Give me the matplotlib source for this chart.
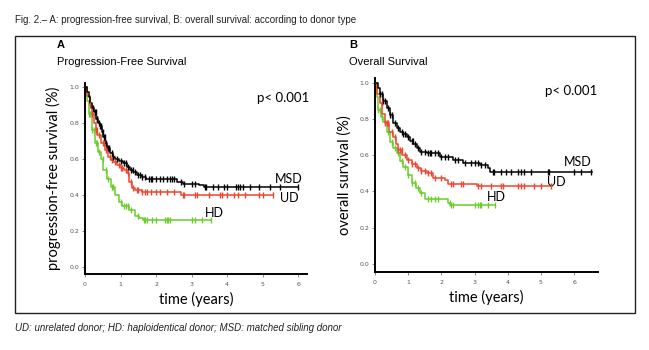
import matplotlib
matplotlib.use("Agg")
import matplotlib.pyplot as plt
from matplotlib import font_manager
from matplotlib.patches import Rectangle
import numpy as np

avail = {f.name for f in font_manager.fontManager.ttflist}
NARROW = "Liberation Sans Narrow" if "Liberation Sans Narrow" in avail else "Liberation Sans"
CAL = "Lato" if "Lato" in avail else "DejaVu Sans"

W, H = 649, 350

# ---------------- data ----------------
# Panel A: progression-free survival (step functions: time in years, survival)
pfs_msd_t = [0, 0.05, 0.1, 0.15, 0.2, 0.25, 0.32, 0.38, 0.42, 0.47, 0.52, 0.57, 0.62, 0.70, 0.78, 0.85, 0.95, 1.08, 1.18,
             1.27, 1.36, 1.45, 1.6, 1.73, 2.1, 2.6, 2.75, 3.2, 3.35]
pfs_msd_s = [1.0, 0.97, 0.94, 0.91, 0.88, 0.86, 0.82, 0.80, 0.78, 0.75, 0.72, 0.69, 0.66, 0.63, 0.61, 0.60, 0.59, 0.575,
             0.555, 0.54, 0.525, 0.51, 0.50, 0.49, 0.485, 0.47, 0.46, 0.455, 0.443]
pfs_msd_end = 6.0
pfs_msd_c = [0.22, 0.27, 0.3, 0.33, 0.35, 0.4, 0.43, 0.45, 0.5, 0.53, 0.55, 0.6, 0.65, 0.68, 0.75, 0.8, 0.9, 1.0, 1.1,
             1.15, 1.2, 1.3, 1.35, 1.4, 1.5, 1.55, 1.6, 1.7, 1.8, 1.85, 1.9,
             2.0, 2.1, 2.2, 2.3, 2.4, 2.45, 2.5, 2.7, 2.8, 3.0, 3.1, 3.38, 3.42, 3.6, 3.75, 3.9, 4.0, 4.25, 4.3, 4.35,
             4.45, 4.65, 4.9, 5.2, 5.5, 6.0]

pfs_ud_t = [0, 0.06, 0.14, 0.2, 0.25, 0.3, 0.35, 0.45, 0.55, 0.65, 0.72, 0.8, 0.9, 1.0, 1.1, 1.17, 1.25, 1.33, 1.42,
            1.6, 2.7]
pfs_ud_s = [1.0, 0.95, 0.90, 0.85, 0.80, 0.76, 0.73, 0.69, 0.65, 0.61, 0.595, 0.58, 0.565, 0.55, 0.535, 0.52, 0.47,
            0.44, 0.425, 0.413, 0.40]
pfs_ud_end = 5.3
pfs_ud_c = [0.15, 0.2, 0.3, 0.33, 0.4, 0.5, 0.53, 0.6, 0.7, 0.75, 0.85, 0.95, 1.0, 1.05, 1.15, 1.2, 1.3, 1.35,
            1.45, 1.5, 1.6, 1.7, 1.75, 1.85, 2.0, 2.1,
            2.3, 2.5, 2.75, 2.8, 3.1, 3.15, 3.5, 3.8, 3.85, 4.0, 4.2, 4.3, 4.5, 4.9, 5.0, 5.3]

pfs_hd_t = [0, 0.05, 0.1, 0.19, 0.28, 0.38, 0.45, 0.52, 0.62, 0.72, 0.85, 0.95, 1.05, 1.25, 1.4, 1.52, 1.64]
pfs_hd_s = [1.0, 0.92, 0.85, 0.76, 0.69, 0.64, 0.60, 0.54, 0.49, 0.445, 0.40, 0.36, 0.34, 0.315, 0.285, 0.27, 0.258]
pfs_hd_end = 3.56
pfs_hd_c = [0.1, 0.15, 0.2, 0.25, 0.3, 0.35, 0.4, 0.5, 0.6, 0.65, 0.75, 0.8, 1.0, 1.1, 1.15, 1.2, 1.3, 1.5, 1.65,
            1.7, 1.75, 1.9, 2.0, 2.25, 2.3, 2.35, 2.4, 3.0, 3.1, 3.3, 3.56]

# Panel B: overall survival
os_msd_t = [0, 0.08, 0.15, 0.25, 0.35, 0.45, 0.55, 0.65, 0.75, 0.85, 0.95, 1.05, 1.16, 1.26, 1.36, 1.56, 1.96, 2.36,
            2.66, 3.17, 3.42, 3.47]
os_msd_s = [1.0, 0.97, 0.94, 0.90, 0.86, 0.82, 0.78, 0.75, 0.73, 0.715, 0.70, 0.68, 0.66, 0.64, 0.62, 0.61, 0.59,
            0.574, 0.556, 0.547, 0.53, 0.505]
os_msd_end = 6.55
os_msd_c = [0.15, 0.2, 0.25, 0.3, 0.4, 0.45, 0.5, 0.6, 0.7, 0.8, 0.85, 0.9, 1.0, 1.1, 1.15, 1.2, 1.3, 1.4, 1.5,
            1.6, 1.65, 1.7, 1.8, 1.9, 2.0, 2.1, 2.2,
            2.4, 2.5, 2.7, 2.9, 3.0, 3.1, 3.2, 3.3, 3.55, 3.6, 3.8, 3.95, 4.1, 4.3, 4.4, 4.5, 4.7, 5.2, 5.25, 6.0,
            6.2, 6.5]

os_ud_t = [0, 0.07, 0.15, 0.22, 0.3, 0.42, 0.55, 0.62, 0.7, 0.82, 0.95, 1.1, 1.26, 1.4, 1.56, 1.76, 2.11, 2.2, 3.06]
os_ud_s = [1.0, 0.94, 0.886, 0.83, 0.776, 0.73, 0.70, 0.66, 0.63, 0.60, 0.574, 0.55, 0.528, 0.515, 0.50, 0.473,
           0.464, 0.44, 0.428]
os_ud_end = 5.33
os_ud_c = [0.2, 0.3, 0.35, 0.4, 0.5, 0.6, 0.7, 0.75, 0.8, 0.9, 1.0, 1.1, 1.2, 1.3, 1.4, 1.5, 1.6, 1.7, 1.8, 2.0,
           2.3, 2.35, 2.6, 2.65, 3.1, 3.2, 3.5, 3.8, 3.85, 4.3, 4.4, 4.5, 4.8, 5.0, 5.3]

os_hd_t = [0, 0.05, 0.1, 0.18, 0.25, 0.35, 0.45, 0.55, 0.65, 0.75, 0.85, 0.98, 1.1, 1.23, 1.36, 1.5, 2.2, 2.26]
os_hd_s = [1.0, 0.92, 0.85, 0.81, 0.785, 0.73, 0.675, 0.64, 0.61, 0.57, 0.537, 0.49, 0.446, 0.42, 0.39, 0.358,
           0.336, 0.326]
os_hd_end = 3.62
os_hd_c = [0.1, 0.15, 0.2, 0.3, 0.4, 0.5, 0.6, 0.7, 0.8, 0.9, 1.0, 1.1, 1.2, 1.3, 1.4, 1.6, 1.7, 1.8, 1.9, 2.25,
           2.3, 2.35, 3.0, 3.1, 3.15, 3.2, 3.4, 3.62]

x_ticks = [0, 1, 2, 3, 4, 5, 6]
y_ticks = [0.0, 0.2, 0.4, 0.6, 0.8, 1.0]
y_ticklabels = ["0.0", "0.2", "0.4", "0.6", "0.8", "1.0"]

COL_MSD = "#000000"
COL_UD = "#ef4530"
COL_HD = "#6ccc2c"

# ---------------- figure ----------------
fig = plt.figure(figsize=(W / 100, H / 100), dpi=100)
fig.patch.set_facecolor("white")


def fx(x):
    return x / W


def fy(y):
    return 1 - y / H


fig.patches.append(Rectangle((fx(15), fy(313)), fx(635) - fx(15), fy(36) - fy(313),
                             transform=fig.transFigure, fill=False, edgecolor="#222222", lw=1.0))

fig.text(fx(15), fy(20), "Fig. 2.– A: progression-free survival, B: overall survival: according to donor type",
         fontsize=7, family=NARROW, color="#222222", va="center", ha="left")
fig.text(fx(15), fy(328), "UD: unrelated donor; HD: haploidentical donor; MSD: matched sibling donor",
         fontsize=7, family=NARROW, style="italic", color="#222222", va="center", ha="left")

fig.text(fx(57), fy(45), "A", fontsize=8, family=NARROW, weight="bold", va="center")
fig.text(fx(57), fy(62), "Progression-Free Survival", fontsize=8, family=NARROW, va="center")
fig.text(fx(349), fy(45), "B", fontsize=8, family=NARROW, weight="bold", va="center")
fig.text(fx(349), fy(62), "Overall Survival", fontsize=8, family=NARROW, va="center")


def surv_at(t, times, surv):
    idx = np.searchsorted(np.asarray(times), t, side="right") - 1
    return np.asarray(surv)[idx]


def draw_curve(ax, times, surv, end, cens, color):
    tt = list(times) + [end]
    ss = list(surv) + [surv[-1]]
    ax.step(tt, ss, where="post", color=color, lw=1.1, zorder=3)
    c = np.asarray(cens)
    ax.plot(c, surv_at(c, times, surv), ls="none", marker="|", ms=4.5, mew=1.0, color=color, zorder=4)


def style_axes(ax, xmax, ylo, yhi, ylabel):
    ax.set_xlim(0, xmax)
    ax.set_ylim(ylo, yhi)
    for s in ["top", "right"]:
        ax.spines[s].set_visible(False)
    for s in ["left", "bottom"]:
        ax.spines[s].set_linewidth(1.4)
        ax.spines[s].set_color("black")
    ax.set_xticks(x_ticks)
    ax.set_yticks(y_ticks)
    ax.set_yticklabels(y_ticklabels)
    ax.tick_params(axis="both", length=2.5, width=0.6, color="#777777", labelsize=4.5,
                   labelcolor="#555555", pad=1.5)
    ax.tick_params(axis="x", pad=3)
    ax.set_ylabel(ylabel, family=CAL, fontsize=10.5, labelpad=6)
    ax.set_xlabel("time (years)", family=CAL, fontsize=10.5, labelpad=4)


# Panel A
axA = fig.add_axes([fx(85), fy(274), fx(307) - fx(85), fy(83) - fy(274)])
style_axes(axA, 6.25, -0.039, 1.02, "progression-free survival (%)")
draw_curve(axA, pfs_hd_t, pfs_hd_s, pfs_hd_end, pfs_hd_c, COL_HD)
draw_curve(axA, pfs_ud_t, pfs_ud_s, pfs_ud_end, pfs_ud_c, COL_UD)
draw_curve(axA, pfs_msd_t, pfs_msd_s, pfs_msd_end, pfs_msd_c, COL_MSD)
axA.text(5.75, 0.49, "MSD", family=CAL, fontsize=9, ha="center", va="center")
axA.text(5.75, 0.385, "UD", family=CAL, fontsize=9, ha="center", va="center")
axA.text(3.65, 0.30, "HD", family=CAL, fontsize=9, ha="center", va="center")
axA.text(6.3, 0.935, "p< 0.001", family=CAL, fontsize=9.5, ha="right", va="center")

# Panel B
axB = fig.add_axes([fx(375), fy(272), fx(598) - fx(375), fy(78) - fy(272)])
style_axes(axB, 6.72, -0.044, 1.026, "overall survival (%)")
draw_curve(axB, os_hd_t, os_hd_s, os_hd_end, os_hd_c, COL_HD)
draw_curve(axB, os_ud_t, os_ud_s, os_ud_end, os_ud_c, COL_UD)
draw_curve(axB, os_msd_t, os_msd_s, os_msd_end, os_msd_c, COL_MSD)
axB.text(6.1, 0.565, "MSD", family=CAL, fontsize=9, ha="center", va="center")
axB.text(5.45, 0.45, "UD", family=CAL, fontsize=9, ha="center", va="center")
axB.text(3.65, 0.37, "HD", family=CAL, fontsize=9, ha="center", va="center")
axB.text(6.7, 0.955, "p< 0.001", family=CAL, fontsize=9.5, ha="right", va="center")

fig.savefig("out.png", dpi=100, facecolor="white")
